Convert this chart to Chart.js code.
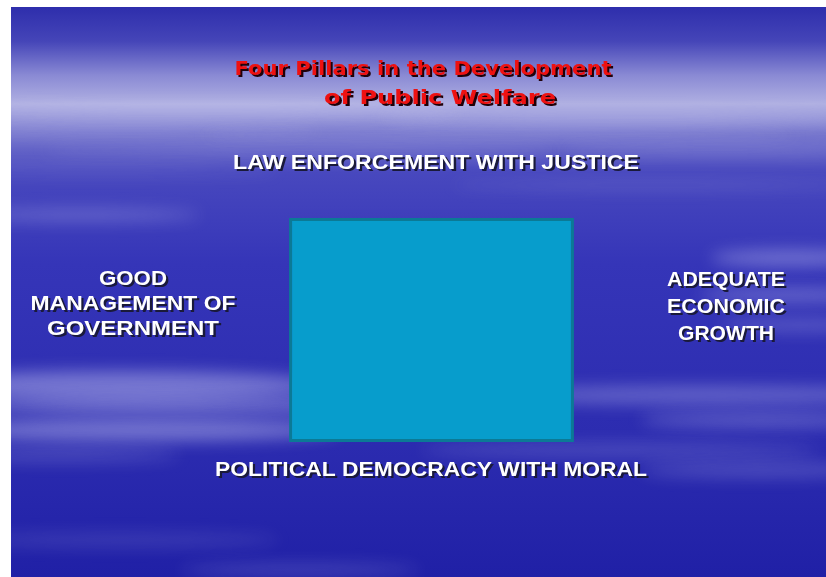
<!DOCTYPE html>
<html>
<head>
<meta charset="utf-8">
<script src="https://cdn.jsdelivr.net/npm/chart.js"></script>
<style>
  html, body { margin: 0; padding: 0; background: #fff; }
  #slide { display: block; }
</style>
</head>
<body>
<canvas id="slide" width="826" height="577"></canvas>
<script>
// data
const categories = ['Public Welfare'];
const boxRange = [[23.4, 62.2]]; // floating bar low / high
const titleLines = ['Four Pillars in the Development', 'of Public Welfare'];
const pillarTop = ['LAW ENFORCEMENT WITH JUSTICE'];
const pillarLeft = ['GOOD', 'MANAGEMENT OF', 'GOVERNMENT'];
const pillarRight = ['ADEQUATE', 'ECONOMIC', 'GROWTH'];
const pillarBottom = ['POLITICAL DEMOCRACY WITH MORAL'];

// stretched text, fitted to a width
function drawText(ctx, txt, cx, cy, font, width, fill, shadow) {
    ctx.save();
    ctx.font = font;
    const w = ctx.measureText(txt).width;
    ctx.translate(cx, cy);
    ctx.scale(width / w, 1);
    ctx.textAlign = 'center';
    ctx.textBaseline = 'middle';
    ctx.fillStyle = shadow;
    ctx.fillText(txt, 2, 2);
    ctx.fillStyle = fill;
    ctx.fillText(txt, 0, 0);
    ctx.restore();
}

const backdrop = {
    id: 'backdrop',
    beforeDraw(chart) {
        const ctx = chart.ctx;
        ctx.save();
        ctx.fillStyle = '#ffffff';
        ctx.fillRect(0, 0, 826, 577);
        const g = ctx.createLinearGradient(0, 7, 0, 577);
        g.addColorStop(0, '#2e2eac');
        g.addColorStop(0.06, '#4545b8');
        g.addColorStop(0.12, '#8a8ad4');
        g.addColorStop(0.17, '#b0b0e2');
        g.addColorStop(0.22, '#7878ce');
        g.addColorStop(0.29, '#4848be');
        g.addColorStop(0.45, '#3535b8');
        g.addColorStop(0.75, '#2c2cb0');
        g.addColorStop(1, '#2020a6');
        ctx.fillStyle = g;
        ctx.fillRect(11, 7, 815, 570);

        // cloud streaks
        ctx.beginPath();
        ctx.rect(11, 7, 815, 570);
        ctx.clip();
        const streaks = [
            [200, 112, 260, 4, 0.35], [620, 118, 240, 4, 0.35], [120, 130, 200, 3, 0.3],
            [500, 135, 300, 3, 0.25], [300, 150, 260, 3, 0.25], [720, 150, 160, 3, 0.25],
            [100, 170, 180, 3, 0.2], [650, 185, 200, 3, 0.2], [80, 215, 120, 6, 0.25],
            [790, 258, 80, 8, 0.35], [790, 295, 90, 7, 0.3], [800, 325, 80, 6, 0.25],
            [120, 385, 200, 14, 0.4], [180, 405, 220, 9, 0.35], [140, 430, 200, 11, 0.4],
            [60, 455, 120, 6, 0.2],
            [700, 395, 220, 9, 0.3], [760, 420, 120, 7, 0.28], [620, 450, 200, 7, 0.18],
            [760, 470, 120, 7, 0.22], [120, 540, 160, 7, 0.13], [300, 570, 120, 6, 0.18]
        ];
        ctx.filter = 'blur(8px)';
        streaks.forEach(s => {
            ctx.fillStyle = 'rgba(225,225,255,' + s[4] + ')';
            ctx.beginPath();
            ctx.ellipse(s[0], s[1], s[2], s[3], 0, 0, Math.PI * 2);
            ctx.fill();
        });
        ctx.filter = 'none';
        ctx.restore();
    },
    afterDraw(chart) {
        const ctx = chart.ctx;
        const bold = 'bold 20px "Liberation Sans", Arial, sans-serif';
        const tFont = 'bold 20px "DejaVu Sans", sans-serif';
        drawText(ctx, titleLines[0], 423, 70, tFont, 377, '#ee1111', '#200008');
        drawText(ctx, titleLines[1], 440, 99, tFont, 232, '#ee1111', '#200008');
        drawText(ctx, pillarTop[0], 436, 163, bold, 406, '#ffffff', '#1a1a3a');
        drawText(ctx, pillarBottom[0], 431, 470, bold, 432, '#ffffff', '#1a1a3a');
        const lw = [68, 205, 172];
        pillarLeft.forEach((t, i) => drawText(ctx, t, 133, 279 + i * 25, bold, lw[i], '#ffffff', '#1a1a3a'));
        const rw = [118, 118, 96];
        pillarRight.forEach((t, i) => drawText(ctx, t, 726, 280 + i * 27, bold, rw[i], '#ffffff', '#1a1a3a'));
    }
};

new Chart(document.getElementById('slide'), {
    type: 'bar',
    data: {
        labels: categories,
        datasets: [{
            data: boxRange,
            backgroundColor: '#079dcc',
            borderColor: '#0b7a96',
            borderWidth: 3,
            borderSkipped: false,
            barPercentage: 1,
            categoryPercentage: 0.361
        }]
    },
    options: {
        responsive: false,
        animation: false,
        layout: { padding: { left: 37, right: 0, top: 0, bottom: 0 } },
        plugins: { legend: { display: false }, tooltip: { enabled: false } },
        scales: {
            x: { display: false },
            y: { display: false, min: 0, max: 100 }
        }
    },
    plugins: [backdrop]
});
</script>
</body>
</html>
